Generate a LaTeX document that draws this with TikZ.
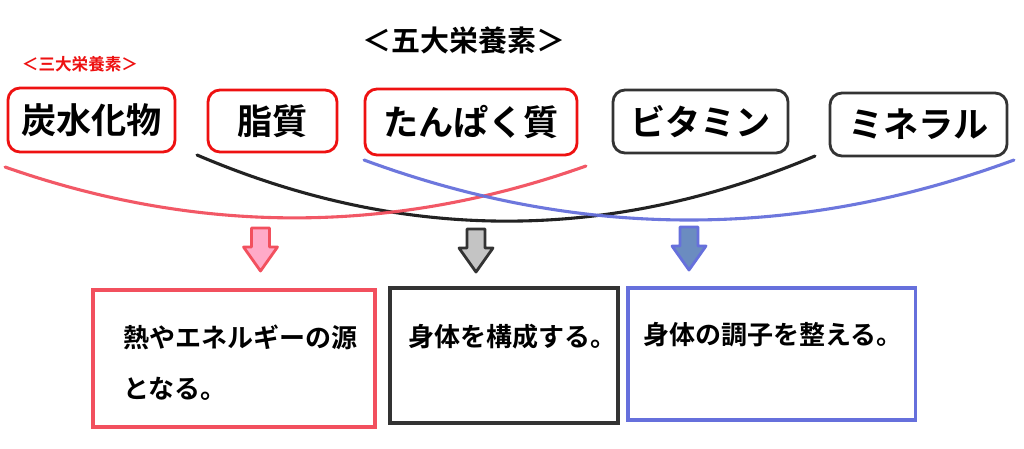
\documentclass[tikz,border=0pt]{standalone}
\usepackage{fontspec}
\setmainfont{Noto Sans CJK JP}[BoldFont={Noto Sans CJK JP Bold}]
\definecolor{nutred}{HTML}{EE1111}
\definecolor{nutdark}{HTML}{333333}
\definecolor{linkred}{HTML}{F2505E}
\definecolor{linkdark}{HTML}{222222}
\definecolor{linkblue}{HTML}{6670DC}
\definecolor{pinkfill}{HTML}{FFAAC8}
\definecolor{grayfill}{HTML}{C4C4C4}
\definecolor{bluefill}{HTML}{6B8CC0}

\begin{document}
\begin{tikzpicture}[x=0.025cm,y=-0.025cm,text=black,
  nutrient/.style={draw=#1,rounded corners=0.3cm,line width=2pt,inner sep=0pt,
    font=\bfseries\fontsize{25}{30}\selectfont},
  role/.style={draw=#1,line width=2.2pt,inner sep=0pt},
  roletext/.style={font=\bfseries\fontsize{18.5}{36}\selectfont,align=left,anchor=west,inner sep=0pt},
  link/.style={line width=2.2pt,line cap=round},
  blockarrow/.style={line width=2pt,line join=round}]
\useasboundingbox (0,0) rectangle (1024,448);
\fill[white] (0,0) rectangle (1024,448);

% HEADINGS
\node[font=\bfseries\fontsize{20.6}{24}\selectfont] (title) at (464,40) {＜五大栄養素＞};
\node[font=\bfseries\fontsize{11.8}{14}\selectfont,text=nutred] (three) at (80,64) {＜三大栄養素＞};

% THE FIVE NUTRIENTS
\node[nutrient=nutred,minimum width=4.175cm,minimum height=1.6cm] (carb) at (91.5,120) {炭水化物};
\node[nutrient=nutred,minimum width=3.225cm,minimum height=1.55cm] (fat) at (272.5,121) {脂質};
\node[nutrient=nutred,minimum width=5.3cm,minimum height=1.65cm] (protein) at (471,122) {たんぱく質};
\node[nutrient=nutdark,minimum width=4.375cm,minimum height=1.575cm] (vitamin) at (700.5,121.5) {ビタミン};
\node[nutrient=nutdark,minimum width=4.425cm,minimum height=1.575cm] (mineral) at (918.5,124.5) {ミネラル};

% GROUPING ARCS
\coordinate (fatend) at (197,155);
\coordinate (vitend) at (815,156);
\coordinate (carbend) at (5,167);
\coordinate (proend) at (586,166);
\coordinate (pro2end) at (364,160);
\coordinate (minend) at (1014,160);
\draw[link,draw=linkdark] (fatend) .. controls (403,243) and (609,243) .. (vitend);
\draw[link,draw=linkred,opacity=.95] (carbend) .. controls (199,235) and (392,235) .. (proend);
\draw[link,draw=linkblue,opacity=.95] (pro2end) .. controls (581,240) and (797,240) .. (minend);

% DOWN ARROWS
\foreach \cx/\ty/\fc/\dc in {260.5/228/pinkfill/linkred,476/229/grayfill/nutdark,689/227/bluefill/linkblue}{
  \draw[blockarrow,fill=\fc,draw=\dc]
    (\cx-9,\ty)--(\cx+9,\ty)--(\cx+9,\ty+19)--(\cx+17,\ty+19)--(\cx,\ty+43)
    --(\cx-17,\ty+19)--(\cx-9,\ty+19)--cycle;
}

% ROLES
\node[role=linkred,minimum width=7.05cm,minimum height=3.425cm] (energy) at (234,358.5) {};
\node[roletext] (energytext) at (123,362.5) {熱やエネルギーの源\\となる。};
\node[role=nutdark,minimum width=5.7cm,minimum height=3.375cm] (body) at (504,355.5) {};
\node[roletext] (bodytext) at (408,337) {身体を構成する。};
\node[role=linkblue,minimum width=7.175cm,minimum height=3.3cm] (tone) at (771.5,354) {};
\node[roletext] (tonetext) at (643,335) {身体の調子を整える。};
\end{tikzpicture}
\end{document}
